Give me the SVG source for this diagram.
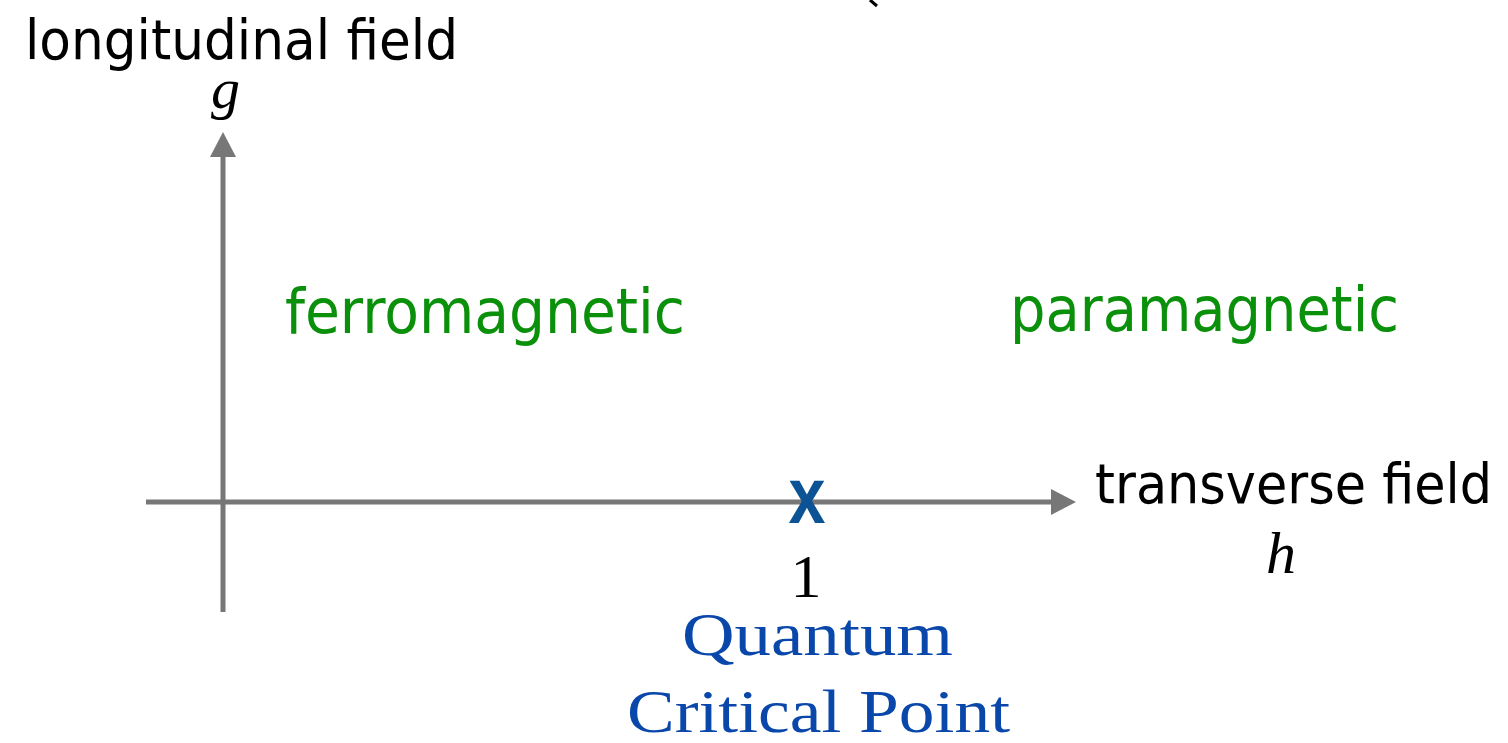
<svg xmlns="http://www.w3.org/2000/svg" width="1508" height="743" viewBox="0 0 1508 743">
  <style>
    .label { font-family: "DejaVu Sans", Verdana, sans-serif; font-size: 55px; fill: #000; }
    .phase { font-family: "DejaVu Sans", Verdana, sans-serif; font-size: 62px; fill: #0a900a; }
    .math { font-family: "Liberation Serif", "Times New Roman", serif; font-style: italic; fill: #000; }
    .cm { font-family: "Liberation Serif", "Times New Roman", serif; fill: #0a47aa; font-size: 62px; }
    .axis { stroke: #777777; stroke-width: 5; fill: none; }
  </style>
  <defs>
    <marker id="arrow" viewBox="0 0 25 26" refX="0" refY="13" markerWidth="25" markerHeight="26" markerUnits="userSpaceOnUse" orient="auto">
      <path d="M0,0 L25,13 L0,26 Z" fill="#777777"/>
    </marker>
  </defs>
  <rect width="1508" height="743" fill="#ffffff"/>
  <path d="M870,0 L877,6" stroke="#000" stroke-width="3"/>
  <g id="connectors">
    <line class="axis" x1="223" y1="612" x2="223" y2="157" marker-end="url(#arrow)"/>
    <line class="axis" x1="146" y1="502" x2="1051" y2="502" marker-end="url(#arrow)"/>
  </g>
  <g id="y-axis-label">
    <text class="label" x="25" y="59" textLength="433" lengthAdjust="spacingAndGlyphs">longitudinal field</text>
    <text class="math" x="211" y="108" font-size="58">g</text>
  </g>
  <g id="x-axis-label">
    <text class="label" x="1095" y="503" textLength="397" lengthAdjust="spacingAndGlyphs">transverse field</text>
    <text class="math" x="1266" y="573" font-size="60">h</text>
  </g>
  <g id="ferromagnetic">
    <text class="phase" x="285" y="333" textLength="400" lengthAdjust="spacingAndGlyphs">ferromagnetic</text>
  </g>
  <g id="paramagnetic">
    <text class="phase" x="1010" y="331" textLength="389" lengthAdjust="spacingAndGlyphs">paramagnetic</text>
  </g>
  <g id="critical-point">
    <text x="807" y="523" text-anchor="middle" font-family="Liberation Sans, Arial, sans-serif" font-weight="bold" font-size="80" fill="#0b5394" textLength="37" lengthAdjust="spacingAndGlyphs">x</text>
    <text x="806" y="597" text-anchor="middle" font-family="Liberation Serif, Times New Roman, serif" font-size="62" fill="#000">1</text>
    <text class="cm" x="682" y="655" textLength="271" lengthAdjust="spacingAndGlyphs">Quantum</text>
    <text class="cm" x="627" y="732" textLength="383" lengthAdjust="spacingAndGlyphs">Critical Point</text>
  </g>
</svg>
